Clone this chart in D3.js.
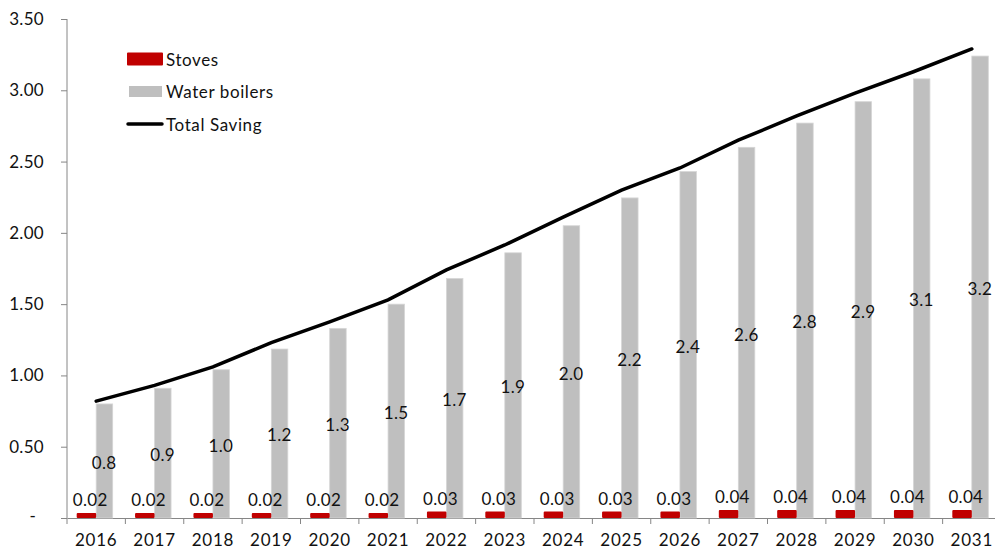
<!DOCTYPE html>
<html>
<head>
<meta charset="utf-8">
<script src="https://cdn.jsdelivr.net/npm/d3@7"></script>
<style>
  body { margin: 0; background: #fff; }
  svg text { font-family: Lato, "Open Sans", sans-serif; fill: #111; }
</style>
</head>
<body>
<div class="chart"></div>
<script>
(function(){

//chart data
var years = ["2016", "2017", "2018", "2019", "2020", "2021", "2022", "2023",
             "2024", "2025", "2026", "2027", "2028", "2029", "2030", "2031"];

var stoves = [0.02, 0.02, 0.02, 0.02, 0.02, 0.02, 0.03, 0.03,
              0.03, 0.03, 0.03, 0.04, 0.04, 0.04, 0.04, 0.04];

var waterBoilers = [0.80, 0.91, 1.04, 1.185, 1.33, 1.50, 1.68, 1.86,
                    2.05, 2.245, 2.43, 2.60, 2.77, 2.92, 3.08, 3.24];

var totalSaving = [0.82, 0.93, 1.06, 1.23, 1.375, 1.53, 1.74, 1.915,
                   2.11, 2.30, 2.455, 2.65, 2.82, 2.98, 3.13, 3.29];

var yTicks = [0, 0.5, 1, 1.5, 2, 2.5, 3, 3.5];

var seriesNames = ["Stoves", "Water boilers", "Total Saving"];

//colors
var red = "#c00000",
    grey = "#bfbfbf",
    axisColor = "#868686";

window.onload = drawChart();

function drawChart(){

    var width = 995,
        height = 550;

    var svg = d3.select(".chart")
        .append("svg")
        .attr("width", width)
        .attr("height", height);

    var x = d3.scaleBand()
        .domain(years)
        .range([67, 1001])
        .padding(0);

    var y = d3.scaleLinear()
        .domain([0, 3.5])
        .range([518, 19]);

    var fmt1 = d3.format(".1f"),
        fmt2 = d3.format(".2f");

    //y axis
    var yAxis = svg.append("g")
        .attr("transform", "translate(67,0)")
        .call(d3.axisLeft(y)
            .tickValues(yTicks)
            .tickSize(6)
            .tickPadding(17)
            .tickFormat(function(d){ return d === 0 ? "-" : fmt2(d); }));
    yAxis.select(".domain").attr("stroke", axisColor).attr("d", "M0," + y(3.5) + "V" + y(0));
    yAxis.selectAll(".tick line").attr("stroke", axisColor);
    yAxis.selectAll("text")
        .style("font-size", "17px")
        .style("letter-spacing", "0.3px")
        .attr("fill", "#111");
    yAxis.selectAll(".tick").filter(function(d){ return d === 0; })
        .select("text").attr("x", -31).attr("dy", "0.2em");

    //x axis
    var xAxis = svg.append("g")
        .attr("transform", "translate(0,518)")
        .call(d3.axisBottom(x).tickSize(0).tickPadding(16));
    xAxis.select(".domain").attr("stroke", axisColor);
    xAxis.selectAll("text")
        .style("font-size", "17px")
        .style("letter-spacing", "0.8px")
        .attr("fill", "#111");

    var bounds = years.map(function(d){ return x(d); }).concat([x.range()[1]]);
    svg.append("g").selectAll("line")
        .data(bounds)
        .enter()
        .append("line")
        .attr("x1", function(d){ return d; })
        .attr("x2", function(d){ return d; })
        .attr("y1", 518)
        .attr("y2", 524)
        .attr("stroke", axisColor);

    var half = x.bandwidth() / 2;

    //water boilers bars
    svg.append("g").selectAll("rect")
        .data(waterBoilers)
        .enter()
        .append("rect")
        .attr("x", function(d, i){ return x(years[i]) + half; })
        .attr("width", 16.5)
        .attr("y", function(d){ return y(d); })
        .attr("height", function(d){ return y(0) - y(d); })
        .attr("fill", grey)
        .attr("stroke", "#d6d6d6")
        .attr("stroke-width", 0.8);

    //stoves bars
    svg.append("g").selectAll("rect")
        .data(stoves)
        .enter()
        .append("rect")
        .attr("x", function(d, i){ return x(years[i]) + half - 18.5; })
        .attr("width", 17.5)
        .attr("y", function(d){ return y(d) - 1.2; })
        .attr("height", function(d){ return y(0) - y(d) + 0.2; })
        .attr("fill", red)
        .attr("stroke", red)
        .attr("stroke-width", 2)
        .attr("stroke-linejoin", "round");

    //total saving line
    var line = d3.line()
        .x(function(d, i){ return x(years[i]) + half; })
        .y(function(d){ return y(d); });

    svg.append("path")
        .datum(totalSaving)
        .attr("d", line)
        .attr("fill", "none")
        .attr("stroke", "#000")
        .attr("stroke-width", 3.5)
        .attr("stroke-linecap", "round");

    //labels, water boilers in the middle of the bar
    svg.append("g").selectAll("text")
        .data(waterBoilers)
        .enter()
        .append("text")
        .attr("x", function(d, i){ return x(years[i]) + half + 8; })
        .attr("y", function(d){ return (y(d) + y(0)) / 2 + 2; })
        .attr("dy", "0.35em")
        .attr("text-anchor", "middle")
        .style("font-size", "17px")
        .style("letter-spacing", "0.3px")
        .text(function(d){ return fmt1(d); });

    //labels, stoves above the bar
    svg.append("g").selectAll("text")
        .data(stoves)
        .enter()
        .append("text")
        .attr("x", function(d, i){ return x(years[i]) + half - 6; })
        .attr("y", function(d){ return y(d) - 9; })
        .attr("text-anchor", "middle")
        .style("font-size", "17px")
        .style("letter-spacing", "0.3px")
        .text(function(d){ return fmt2(d); });

    //legend
    var legend = svg.append("g");
    var rows = [59, 91.5, 124];

    legend.append("rect")
        .attr("x", 128).attr("y", rows[0] - 5.5)
        .attr("width", 34).attr("height", 11)
        .attr("fill", red).attr("stroke", red)
        .attr("stroke-width", 2).attr("stroke-linejoin", "round");
    legend.append("rect")
        .attr("x", 129).attr("y", rows[1] - 5.5)
        .attr("width", 33).attr("height", 11)
        .attr("fill", grey);
    legend.append("line")
        .attr("x1", 128).attr("x2", 162)
        .attr("y1", rows[2]).attr("y2", rows[2])
        .attr("stroke", "#000").attr("stroke-width", 3.5)
        .attr("stroke-linecap", "round");

    legend.selectAll("text")
        .data(seriesNames)
        .enter()
        .append("text")
        .attr("x", 166)
        .attr("y", function(d, i){ return rows[i] + 6.5; })
        .style("font-size", "17px")
        .style("letter-spacing", "0.6px")
        .text(function(d){ return d; });
}

})();
</script>
</body>
</html>
